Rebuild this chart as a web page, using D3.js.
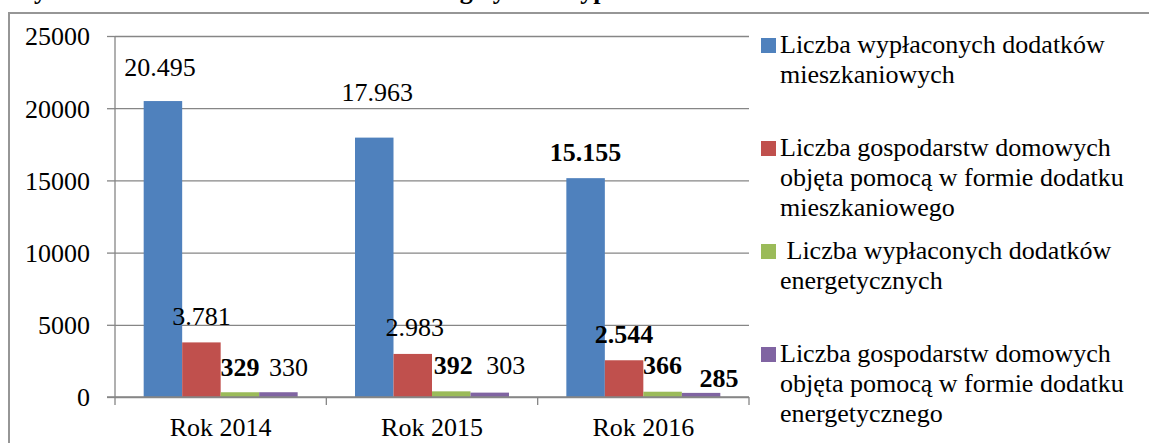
<!DOCTYPE html>
<html>
<head>
<meta charset="utf-8">
<script src="https://cdn.jsdelivr.net/npm/d3@7"></script>
<style>
body { margin: 0; background: #fff; }
svg { display: block; font-family: "Liberation Serif", "Times New Roman", serif; }
svg text { font-family: "Liberation Serif", "Times New Roman", serif; }
</style>
</head>
<body>
<svg width="1149" height="443"></svg>
<script>
"use strict";

// data
const years = ["Rok 2014", "Rok 2015", "Rok 2016"];
const seriesKeys = ["housingPaid", "housingHouseholds", "energyPaid", "energyHouseholds"];
const housingPaid = [20495, 17963, 15155];
const housingHouseholds = [3781, 2983, 2544];
const energyPaid = [329, 392, 366];
const energyHouseholds = [330, 303, 285];
const legendLines = [
    ["Liczba wypłaconych dodatków", "mieszkaniowych"],
    ["Liczba gospodarstw domowych", "objęta pomocą w formie dodatku", "mieszkaniowego"],
    [" Liczba wypłaconych dodatków", "energetycznych"],
    ["Liczba gospodarstw domowych", "objęta pomocą w formie dodatku", "energetycznego"]
];
const yTicks = [0, 5000, 10000, 15000, 20000, 25000];
// which value labels are bold (per year, per series)
const boldLabels = [
    [false, false, true, false],
    [false, false, true, false],
    [true, true, true, true]
];
const colors = ["#4F81BD", "#C0504D", "#9BBB59", "#8064A2"];
const titleText = "Wykres 10. Dodatki mieszkaniowe i energetyczne wypłacone w latach 2014-2016";

const seriesValues = [housingPaid, housingHouseholds, energyPaid, energyHouseholds];
const rows = years.map((y, i) => {
    let r = { year: y };
    seriesKeys.forEach((k, j) => r[k] = seriesValues[j][i]);
    return r;
});

// layout
const plot = { left: 115, right: 749, top: 36, bottom: 397 },
      fontSize = 26,
      gridColor = "#868686",
      labelGap = 17,
      legendX = 761,
      legendTop = 53,
      legendEntryStep = 103,
      legendLineStep = 30,
      legendBox = 15;

// manual label nudges from the original (dx, dy) per year, per series
const labelNudge = [
    [[-3, -8], [0, 0], [0, 1], [10, 1]],
    [[3, -20], [2, -1], [2, 0], [16, -2]],
    [[0, 0], [0, 0], [0, -1], [18, 11]]
];

const pl = d3.formatLocale({ decimal: ",", thousands: ".", grouping: [3], currency: ["", ""] });
const fmt = pl.format(",d");

let chart = d3.select("body svg");

// outer frame
chart.append("rect")
.attr("x", 9)
.attr("y", 13)
.attr("width", 1200)
.attr("height", 500)
.attr("fill", "none")
.attr("stroke", "#969696")
.attr("stroke-width", 2);

// title, cut off by the top edge in the original
chart.append("text")
.attr("x", 9)
.attr("y", -1)
.attr("font-size", fontSize)
.attr("font-weight", "bold")
.text(titleText);

// scales
let scaleY = d3.scaleLinear()
.domain([0, 25000])
.range([plot.bottom, plot.top]);

let scaleX = d3.scaleBand()
.domain(years)
.range([plot.left, plot.right])
.padding(0);

let scaleSeries = d3.scaleBand()
.domain(seriesKeys)
.range([0, scaleX.bandwidth()])
.paddingInner(0)
.paddingOuter(0.745);

// grid lines
chart.append("g")
.attr("class", "grid")
.attr("transform", `translate(${plot.left}, 0)`)
.call(d3.axisLeft(scaleY).tickValues(yTicks).tickSize(-(plot.right - plot.left)).tickFormat(""))
.call(g => g.select(".domain").remove())
.call(g => g.selectAll("line").attr("stroke", gridColor).attr("stroke-width", 1.3));

// y axis
chart.append("g")
.attr("class", "y_axis")
.attr("transform", `translate(${plot.left}, 0)`)
.call(d3.axisLeft(scaleY).tickValues(yTicks).tickSize(8).tickPadding(17).tickFormat(d3.format("d")))
.attr("font-family", "Liberation Serif")
.attr("font-size", fontSize)
.call(g => g.select(".domain").attr("d", `M0,${plot.top}V${plot.bottom}`).attr("stroke", gridColor).attr("stroke-width", 1.3))
.call(g => g.selectAll("line").attr("stroke", gridColor).attr("stroke-width", 1.3))
.call(g => g.selectAll("text")
    .attr("fill", "#000")
    .attr("dy", "0.34em"));

// bars
let groups = chart.selectAll("g.bar_groups")
.data(rows)
.enter()
.append("g")
.attr("class", "bar_groups")
.attr("transform", d => `translate(${scaleX(d.year)}, 0)`);

groups.selectAll("rect")
.data(d => seriesKeys.map(k => ({ key: k, value: d[k] })))
.enter()
.append("rect")
.attr("x", d => scaleSeries(d.key))
.attr("y", d => scaleY(d.value))
.attr("width", scaleSeries.bandwidth())
.attr("height", d => scaleY(0) - scaleY(d.value))
.attr("fill", (d, i) => colors[i]);

// x axis line and boundary ticks
let xAxis = chart.append("g").attr("class", "x_axis");
xAxis.append("line")
.attr("x1", plot.left - 8)
.attr("x2", plot.right)
.attr("y1", plot.bottom)
.attr("y2", plot.bottom)
.attr("stroke", gridColor)
.attr("stroke-width", 1.3);

let bounds = years.map(y => scaleX(y)).concat([scaleX(years[years.length - 1]) + scaleX.bandwidth()]);
xAxis.selectAll("line.tick")
.data(bounds)
.enter()
.append("line")
.attr("class", "tick")
.attr("x1", d => d)
.attr("x2", d => d)
.attr("y1", plot.bottom)
.attr("y2", plot.bottom + 8)
.attr("stroke", gridColor)
.attr("stroke-width", 1.3);

xAxis.selectAll("text")
.data(years)
.enter()
.append("text")
.attr("x", d => scaleX(d) + scaleX.bandwidth() / 2)
.attr("y", 436)
.attr("text-anchor", "middle")
.attr("font-size", fontSize)
.text(d => d);

// value labels
groups.each(function(row, i) {
    d3.select(this)
    .selectAll("text")
    .data(seriesKeys)
    .enter()
    .append("text")
    .attr("x", (k, j) => scaleSeries(k) + scaleSeries.bandwidth() / 2 + labelNudge[i][j][0])
    .attr("y", (k, j) => scaleY(row[k]) - labelGap + labelNudge[i][j][1])
    .attr("text-anchor", "middle")
    .attr("font-size", fontSize)
    .attr("font-weight", (k, j) => boldLabels[i][j] ? "bold" : "normal")
    .text(k => fmt(row[k]));
});

// legend
let legend = chart.append("g").attr("class", "legend");
legend.selectAll("g")
.data(legendLines)
.enter()
.append("g")
.attr("transform", (d, i) => `translate(${legendX}, ${legendTop + i * legendEntryStep})`)
.each(function(lines, i) {
    let g = d3.select(this);
    g.append("rect")
    .attr("x", 0)
    .attr("y", -15)
    .attr("width", legendBox)
    .attr("height", legendBox)
    .attr("fill", colors[i]);
    g.selectAll("text")
    .data(lines)
    .enter()
    .append("text")
    .attr("x", 19)
    .attr("y", (t, j) => j * legendLineStep)
    .attr("font-size", fontSize)
    .style("white-space", "pre")
    .text(t => t);
});
</script>
</body>
</html>
